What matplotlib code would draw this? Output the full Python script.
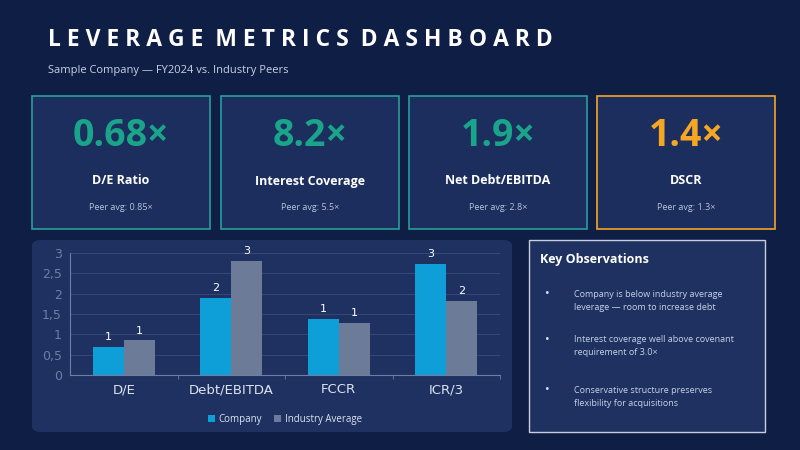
import matplotlib.pyplot as plt
from matplotlib.patches import FancyBboxPatch, Rectangle
import numpy as np

plt.rcParams['font.family'] = ['Open Sans', 'DejaVu Sans']

BG = "#0f1e45"
CARD = "#1b2e5e"
TEAL = "#1aa58a"
ORANGE = "#f5a623"

metric_values = ["0.68×", "8.2×", "1.9×", "1.4×"]
metric_names = ["D/E Ratio", "Interest Coverage", "Net Debt/EBITDA", "DSCR"]
peer_avgs = ["Peer avg: 0.85×", "Peer avg: 5.5×", "Peer avg: 2.8×", "Peer avg: 1.3×"]
value_colors = [TEAL, TEAL, TEAL, ORANGE]

categories = ["D/E", "Debt/EBITDA", "FCCR", "ICR/3"]
company = [0.68, 1.9, 1.38, 2.73]
industry = [0.85, 2.8, 1.28, 1.83]

observations = [
    "Company is below industry average\nleverage — room to increase debt",
    "Interest coverage well above covenant\nrequirement of 3.0×",
    "Conservative structure preserves\nflexibility for acquisitions",
]

W, H = 800, 450
fig = plt.figure(figsize=(8, 4.5), dpi=100)
fig.patch.set_facecolor(BG)


def px(x, y):
    return x / W, 1 - y / H


title = " ".join("LEVERAGE METRICS DASHBOARD").replace("   ", "  ")
fig.text(*px(48, 40), title, color="white", fontsize=16.5,
         fontweight="bold", va="center", ha="left")
fig.text(*px(48, 70), "Sample Company — FY2024 vs. Industry Peers", color="#c8d2e6",
         fontsize=8, va="center")

card_x = [32, 221, 409, 597]
for i, x0 in enumerate(card_x):
    edge = ORANGE if i == 3 else "#2a9d9a"
    r = Rectangle(px(x0, 229), 178 / W, 133 / H, transform=fig.transFigure,
                  facecolor=CARD, edgecolor=edge, linewidth=1.2, zorder=0)
    fig.patches.append(r)
    cx = (x0 + 89) / W
    fig.text(cx, 1 - 136 / H, metric_values[i], color=value_colors[i], fontsize=27,
             fontweight="bold", ha="center", va="center")
    fig.text(cx, 1 - 181 / H, metric_names[i], color="white", fontsize=9,
             fontweight="bold", ha="center", va="center")
    fig.text(cx, 1 - 208 / H, peer_avgs[i], color="#b8c4dc", fontsize=6.5,
             ha="center", va="center")

# chart panel
panel = FancyBboxPatch(px(32, 432), 480 / W, 192 / H, boxstyle="round,pad=0,rounding_size=0.012",
                       transform=fig.transFigure, facecolor="#1e3161", edgecolor="none", zorder=0)
fig.patches.append(panel)

ax = fig.add_axes([70 / W, 75 / H, 430 / W, 122 / H])
ax.set_zorder(5)
ax.set_facecolor("none")
x = np.arange(len(categories))
w = 0.29
b1 = ax.bar(x - w / 2, company, w, color="#0e9fd8", label="Company")
b2 = ax.bar(x + w / 2, industry, w, color="#6c7b97", label="Industry Average")
for bars in (b1, b2):
    for b in bars:
        ax.text(b.get_x() + b.get_width() / 2, b.get_height() + 0.12,
                f"{round(b.get_height()):.0f}", ha="center", va="bottom",
                color="white", fontsize=8, fontfamily="DejaVu Sans")
ax.set_ylim(0, 3)
ax.set_xlim(-0.5, 3.5)
ax.set_yticks([0, 0.5, 1, 1.5, 2, 2.5, 3])
ax.set_yticklabels(["0", "0,5", "1", "1,5", "2", "2,5", "3"], fontfamily="DejaVu Sans")
ax.set_xticks(x)
ax.set_xticklabels(categories, fontfamily="DejaVu Sans")
ax.tick_params(axis="y", colors="#6d7fa5", labelsize=9, length=0, pad=6)
ax.tick_params(axis="x", colors="#dce3f0", labelsize=9.5, length=0, pad=6)
ax.set_xticks([0.5, 1.5, 2.5, 3.5], minor=True)
ax.tick_params(axis="x", which="minor", length=3, color="#6d7fa5")
ax.grid(axis="y", color="#3a4d7a", linewidth=0.6)
ax.set_axisbelow(True)
for s in ["top", "right"]:
    ax.spines[s].set_visible(False)
for s in ["left", "bottom"]:
    ax.spines[s].set_color("#6d7fa5")
leg = ax.legend(loc="upper center", bbox_to_anchor=(0.5, -0.25), ncol=2, frameon=False,
                fontsize=7, handlelength=0.7, handleheight=0.7, columnspacing=1.2,
                handletextpad=0.4)
for t in leg.get_texts():
    t.set_color("#dce3f0")

# observations box
obs = Rectangle(px(529, 432), 236 / W, 192 / H, transform=fig.transFigure,
                facecolor="#1e3161", edgecolor="#c8d0e0", linewidth=1, zorder=0)
fig.patches.append(obs)
fig.text(*px(540, 260), "Key Observations", color="white", fontsize=9,
         fontweight="bold", va="center")
for yy, txt in zip([301, 346, 397], observations):
    fig.text(*px(545, yy - 7), "•", color="#dce3f0", fontsize=9, va="center")
    fig.text(*px(574, yy), txt, color="#c8d2e6", fontsize=6.5, va="center",
             linespacing=1.45)

fig.savefig("out.png", dpi=100, facecolor=BG)
